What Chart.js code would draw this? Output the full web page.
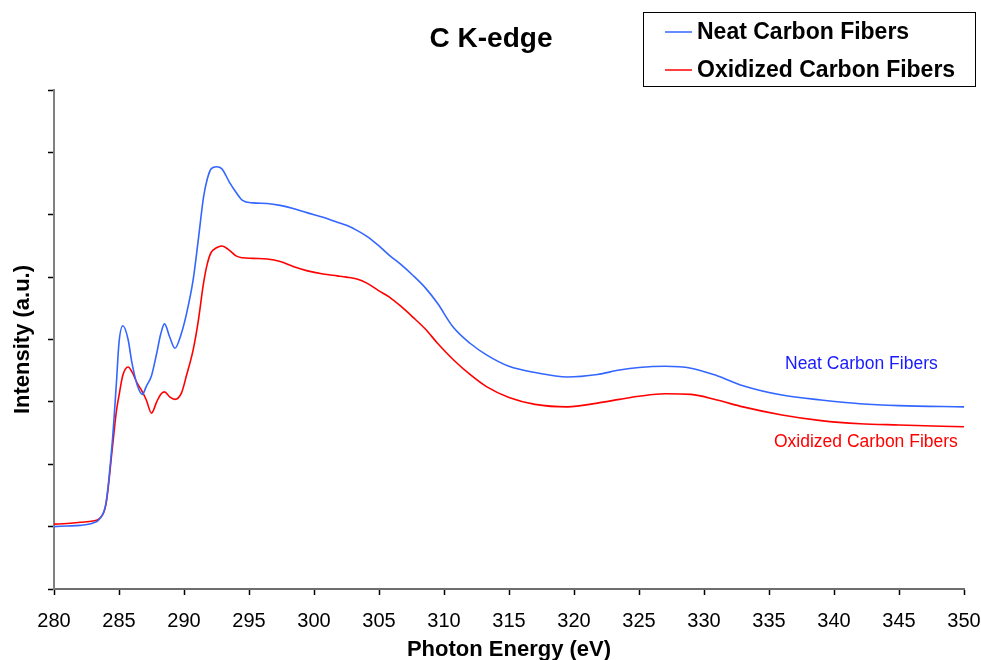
<!DOCTYPE html>
<html>
<head>
<meta charset="utf-8">
<title>C K-edge</title>
<script src="https://cdn.jsdelivr.net/npm/chart.js@4.4.0/dist/chart.umd.min.js"></script>
<style>
  html, body { margin: 0; padding: 0; background: #fff; }
  #wrap { width: 981px; height: 660px; }
</style>
</head>
<body>
<div id="wrap"><canvas id="xasChart" width="981" height="660"></canvas></div>
<script>
// energias (eV)
const energy = [280, 281, 282, 283, 283.5, 284, 284.5, 284.8, 285, 285.3, 285.7, 286, 286.4, 286.8, 287.1, 287.5,
  287.9, 288.2, 288.5, 288.9, 289.3, 289.8, 290.2, 290.7, 291.1, 291.5, 291.8, 292.1, 292.5, 292.9, 293.5, 294,
  294.5, 295.3, 296.4, 297.4, 298.4, 299.5, 300.7, 301.8, 302.5, 303.3, 304.1, 305, 305.8, 306.7, 307.6, 308.6,
  309.5, 310.7, 312, 313.3, 315, 317, 319.5, 321.8, 323.5, 325, 327, 329, 331, 333, 336, 339, 342, 345, 350];

// intensidade (u.a.) - fibras puras
const neatFibers = [1.00, 1.01, 1.02, 1.06, 1.12, 1.38, 2.40, 3.30, 3.95, 4.22, 4.00, 3.62, 3.27, 3.12, 3.25, 3.42,
  3.78, 4.08, 4.25, 4.04, 3.86, 4.10, 4.42, 4.95, 5.60, 6.28, 6.58, 6.74, 6.77, 6.74, 6.52, 6.36,
  6.23, 6.19, 6.18, 6.15, 6.10, 6.03, 5.96, 5.88, 5.83, 5.75, 5.65, 5.50, 5.35, 5.20, 5.03, 4.82,
  4.58, 4.20, 3.94, 3.75, 3.57, 3.47, 3.40, 3.44, 3.51, 3.55, 3.57, 3.54, 3.42, 3.26, 3.11, 3.03, 2.97, 2.94, 2.92];

// intensidade (u.a.) - fibras oxidadas
const oxidizedFibers = [1.04, 1.05, 1.07, 1.09, 1.13, 1.36, 2.28, 2.85, 3.10, 3.43, 3.56, 3.48, 3.30, 3.16, 3.03, 2.82,
  3.00, 3.12, 3.16, 3.08, 3.04, 3.14, 3.43, 3.83, 4.30, 4.90, 5.22, 5.40, 5.47, 5.50, 5.43, 5.34,
  5.31, 5.30, 5.29, 5.25, 5.17, 5.10, 5.05, 5.02, 5.00, 4.97, 4.90, 4.78, 4.68, 4.53, 4.36, 4.16,
  3.94, 3.68, 3.44, 3.24, 3.07, 2.96, 2.92, 2.98, 3.04, 3.09, 3.13, 3.12, 3.03, 2.92, 2.79, 2.70, 2.65, 2.63, 2.60];

const seriesNames = ['Neat Carbon Fibers', 'Oxidized Carbon Fibers'];
const xTicks = [280, 285, 290, 295, 300, 305, 310, 315, 320, 325, 330, 335, 340, 345, 350];

const fontFamily = "'Liberation Sans', Arial, sans-serif";
const blue = '#3366ff';
const red = '#ff0000';

const toPoints = (vals) => energy.map((e, i) => ({ x: e, y: vals[i] }));

// título, legenda com caixa e rótulos ao lado das curvas
const decorPlugin = {
  id: 'decor',
  afterDraw(chart) {
    const c = chart.ctx;
    c.save();
    c.fillStyle = '#000';
    c.textAlign = 'center';
    c.textBaseline = 'middle';
    c.font = `bold 28px ${fontFamily}`;
    c.fillText('C K-edge', 491, 39);

    // caixa da legenda
    c.strokeStyle = '#000';
    c.lineWidth = 1;
    c.strokeRect(643.5, 12.5, 332, 74);
    c.textAlign = 'left';
    c.font = `bold 23px ${fontFamily}`;
    [[blue, 32], [red, 70]].forEach(([col, y], i) => {
      c.strokeStyle = col;
      c.lineWidth = 1.5;
      c.beginPath();
      c.moveTo(665, y);
      c.lineTo(692, y);
      c.stroke();
      c.fillStyle = '#000';
      c.fillText(seriesNames[i], 697, y + 1);
    });

    // rótulos das curvas
    c.font = `17.5px ${fontFamily}`;
    c.fillStyle = '#1a1aff';
    c.fillText(seriesNames[0], 785, 364);
    c.fillStyle = red;
    c.fillText(seriesNames[1], 774, 442);
    c.restore();
  }
};

new Chart(document.getElementById('xasChart'), {
  type: 'line',
  data: {
    datasets: [
      {
        label: seriesNames[0],
        data: toPoints(neatFibers),
        borderColor: blue,
        borderWidth: 1.6,
        pointRadius: 0,
        cubicInterpolationMode: 'monotone',
        fill: false
      },
      {
        label: seriesNames[1],
        data: toPoints(oxidizedFibers),
        borderColor: red,
        borderWidth: 1.6,
        pointRadius: 0,
        cubicInterpolationMode: 'monotone',
        fill: false
      }
    ]
  },
  options: {
    responsive: false,
    animation: false,
    devicePixelRatio: 1,
    layout: { padding: { top: 90, right: 17, left: 0, bottom: 0 } },
    plugins: {
      legend: { display: false },
      tooltip: { enabled: false }
    },
    scales: {
      x: {
        type: 'linear',
        min: 280,
        max: 350,
        afterBuildTicks: (scale) => { scale.ticks = xTicks.map(v => ({ value: v })); },
        afterFit: (scale) => {
          scale.height = 71;
          scale.paddingLeft = 0;
          scale.paddingRight = 0;
        },
        ticks: {
          color: '#000',
          padding: 14,
          font: { family: fontFamily, size: 20 }
        },
        grid: { drawOnChartArea: false, tickLength: 6, tickColor: '#000', tickWidth: 1.5 },
        border: { color: '#6e6e6e', width: 2 },
        title: {
          display: true,
          text: 'Photon Energy (eV)',
          color: '#000',
          font: { family: fontFamily, size: 22, weight: 'bold' },
          padding: { top: 0, bottom: -3 }
        }
      },
      y: {
        min: 0,
        max: 8,
        afterFit: (scale) => { scale.width = 54; },
        ticks: { display: false, stepSize: 1 },
        grid: { drawOnChartArea: false, tickLength: 6, tickColor: '#000', tickWidth: 1.5 },
        border: { color: '#808080', width: 2 },
        title: {
          display: true,
          text: 'Intensity (a.u.)',
          color: '#000',
          font: { family: fontFamily, size: 22, weight: 'bold' },
          padding: { top: 10, bottom: 0 }
        }
      }
    }
  },
  plugins: [decorPlugin]
});
</script>
</body>
</html>
